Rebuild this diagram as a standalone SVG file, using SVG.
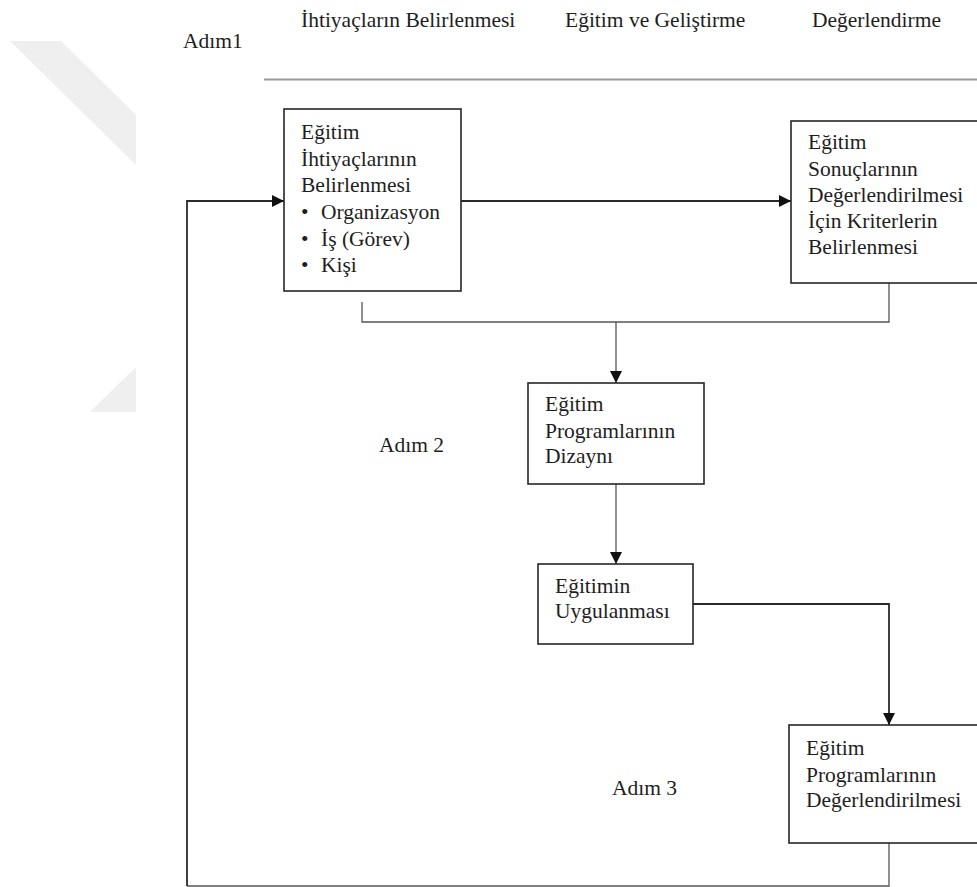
<svg xmlns="http://www.w3.org/2000/svg" width="977" height="887" viewBox="0 0 977 887">
<style>
text{font-family:'Liberation Serif','DejaVu Serif',serif;font-size:21.5px;fill:#1e1e1e}
.box{fill:#fff;stroke:#262626;stroke-width:1.6}
.conn{fill:none;stroke:#2a2a2a;stroke-width:1.8}
.thin{fill:none;stroke:#555;stroke-width:1.3}
.wm{fill:#efefef}
</style>
<defs>
<marker id="arr" markerUnits="userSpaceOnUse" markerWidth="13" markerHeight="13" refX="12" refY="6" orient="auto">
<path d="M0,0 L12,6 L0,12 z" fill="#111"/>
</marker>
</defs>
<rect width="977" height="887" fill="#fff"/>
<g id="watermark">
<polygon class="wm" points="10,41 61,41 136,115 136,165"/>
<polygon class="wm" points="136,367 136,412 90,412"/>
</g>
<g id="header" font-family="Liberation Serif">
<text x="183" y="48">Adım1</text>
<text x="301" y="27">İhtiyaçların Belirlenmesi</text>
<text x="565" y="27">Eğitim ve Geliştirme</text>
<text x="812" y="27">Değerlendirme</text>
<line x1="264" y1="79.5" x2="977" y2="79.5" stroke="#9a9a9a" stroke-width="2"/>
</g>
<g id="connectors">
<path class="thin" d="M889,843 V886 H187"/>
<path class="conn" d="M187,886 V201 H284" marker-end="url(#arr)"/>
<path class="conn" d="M461,201 H791" marker-end="url(#arr)"/>
<path class="thin" d="M889,283 V322 H362 V302"/>
<path class="thin" d="M616,322 V383" marker-end="url(#arr)"/>
<path class="thin" d="M616,484 V564" marker-end="url(#arr)"/>
<path class="conn" d="M693,604 H889 V725" marker-end="url(#arr)"/>
</g>
<g id="node-ihtiyac">
<rect class="box" x="284" y="109" width="177" height="182"/>
<text x="301" y="139">Eğitim</text>
<text x="301" y="166">İhtiyaçlarının</text>
<text x="301" y="192">Belirlenmesi</text>
<text x="301" y="219">•</text><text x="321" y="219">Organizasyon</text>
<text x="301" y="246">•</text><text x="321" y="246">İş (Görev)</text>
<text x="301" y="272">•</text><text x="321" y="272">Kişi</text>
</g>
<g id="node-kriter">
<rect class="box" x="791" y="121" width="190" height="162"/>
<text x="808" y="149">Eğitim</text>
<text x="808" y="175.5">Sonuçlarının</text>
<text x="808" y="201.5">Değerlendirilmesi</text>
<text x="808" y="227.5">İçin Kriterlerin</text>
<text x="808" y="254">Belirlenmesi</text>
</g>
<g id="label-adim2"><text x="379" y="452">Adım 2</text></g>
<g id="node-dizayn">
<rect class="box" x="528" y="383" width="176" height="101"/>
<text x="545" y="411">Eğitim</text>
<text x="545" y="438">Programlarının</text>
<text x="545" y="463">Dizaynı</text>
</g>
<g id="node-uygulama">
<rect class="box" x="538" y="564" width="155" height="80"/>
<text x="555" y="593">Eğitimin</text>
<text x="555" y="618">Uygulanması</text>
</g>
<g id="label-adim3"><text x="612" y="795">Adım 3</text></g>
<g id="node-degerlendirme">
<rect class="box" x="789" y="725" width="192" height="118"/>
<text x="806" y="755">Eğitim</text>
<text x="806" y="782">Programlarının</text>
<text x="806" y="807">Değerlendirilmesi</text>
</g>
</svg>
